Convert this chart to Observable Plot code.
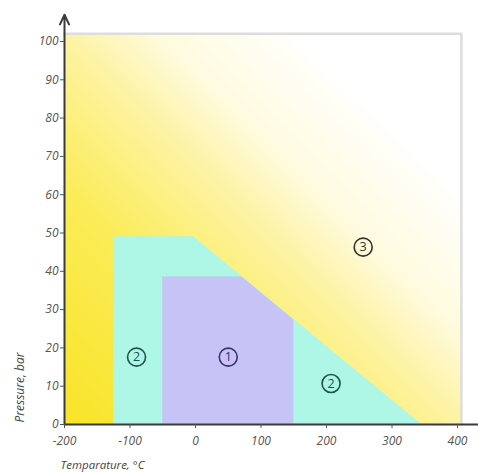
<!DOCTYPE html>
<html>
<head>
<meta charset="utf-8">
<script src="https://cdn.jsdelivr.net/npm/d3@7"></script>
<script src="https://cdn.jsdelivr.net/npm/@observablehq/plot@0.6"></script>
<style>
  html, body { margin: 0; padding: 0; background: #fff; }
  #chart { width: 478px; height: 474px; }
</style>
</head>
<body>
<div id="chart"></div>
<script>
// ---- data ----
const xTicks = [-200, -100, 0, 100, 200, 300, 400];
const yTicks = [0, 10, 20, 30, 40, 50, 60, 70, 80, 90, 100];

// region 2 (cyan) top edge
const region2X = [-125, -3, 345];
const region2Y = [49, 49, 0];
// region 1 (purple) top edge
const region1X = [-50, 71, 150];
const region1Y = [38.5, 38.5, 27.3];

// circled labels
const labelText = ["2", "1", "2", "3"];
const labelX = [-90, 50, 207, 256];
const labelY = [17.6, 17.6, 10.7, 46.3];
const labelColor = ["#1c5448", "#34346e", "#1c5448", "#333333"];

// extents of the background field and frame
const fieldX = [-200, 406];
const fieldY = [0, 102];
const axisEndX = 440;
const axisEndY = 107;

// gradient stops for region 3 background
const gradDomain = [0, 0.3, 0.5, 0.62, 0.8, 1];
const gradRange = ["#f8e428", "#fbec58", "#fdf3a4", "#fffbe0", "#ffffff", "#ffffff"];

const region2 = region2X.map((x, i) => ({x, y: region2Y[i]}));
const region1 = region1X.map((x, i) => ({x, y: region1Y[i]}));
const labels = labelText.map((t, i) => ({t, x: labelX[i], y: labelY[i], c: labelColor[i]}));

const font = "'Open Sans', 'DejaVu Sans', sans-serif";

const plot = Plot.plot({
  width: 478,
  height: 474,
  marginLeft: 64,
  marginRight: 21,
  marginTop: 41,
  marginBottom: 50,
  style: {fontFamily: font, background: "#fff"},
  x: {domain: [-200, 400]},
  y: {domain: [0, 100]},
  color: {type: "linear", domain: gradDomain, range: gradRange, interpolate: "rgb"},
  marks: [
    Plot.raster({
      x1: fieldX[0], x2: fieldX[1], y1: fieldY[0], y2: fieldY[1],
      width: 150, height: 150,
      imageRendering: "auto",
      fill: (x, y) => ((x - fieldX[0]) / (fieldX[1] - fieldX[0]) + (y - fieldY[0]) / (fieldY[1] - fieldY[0])) / 2
    }),
    Plot.areaY(region2, {x: "x", y: "y", fill: "#aef6e6"}),
    Plot.areaY(region1, {x: "x", y: "y", fill: "#c6c3f6"}),
    // light frame top/right
    Plot.line([{x: fieldX[0], y: fieldY[1]}, {x: fieldX[1], y: fieldY[1]}, {x: fieldX[1], y: fieldY[0]}],
      {x: "x", y: "y", stroke: "#dddddd", strokeWidth: 2.5}),
    // axes lines
    Plot.arrow([0], {x1: () => fieldX[0], y1: () => 0, x2: () => fieldX[0], y2: () => axisEndY, stroke: "#3a3a3a", strokeWidth: 2, headLength: 8, headAngle: 50}),
    Plot.ruleY([0], {x1: () => fieldX[0], x2: () => axisEndX, stroke: "#3a3a3a", strokeWidth: 2}),
    Plot.axisX({ticks: xTicks, tickSize: 4, tickPadding: 8, label: null, fontSize: 12, fontStyle: "italic", fill: "#555", stroke: "#555", tickFormat: d => String(d)}),
    Plot.axisY({ticks: yTicks, tickSize: 4, tickPadding: 2, label: null, fontSize: 12, fontStyle: "italic", fill: "#555", stroke: "#555"}),
    // axis titles
    Plot.text(["Temparature, °C"], {x: () => fieldX[0], y: () => 0, text: d => d, dx: -4, dy: 41, textAnchor: "start", fontSize: 11.5, fontStyle: "italic", fill: "#444"}),
    Plot.text(["Pressure, bar"], {x: () => fieldX[0], y: () => 0, text: d => d, dx: -44, dy: -2, rotate: -90, textAnchor: "start", fontSize: 12, fontStyle: "italic", fill: "#444"}),
    // circled labels
    Plot.dot(labels, {x: "x", y: "y", r: 9, stroke: "c", strokeWidth: 1.6, fill: "none"}),
    Plot.text(labels, {x: "x", y: "y", text: "t", fill: "c", fontSize: 12.5})
  ]
});

document.getElementById("chart").appendChild(plot);
</script>
</body>
</html>
